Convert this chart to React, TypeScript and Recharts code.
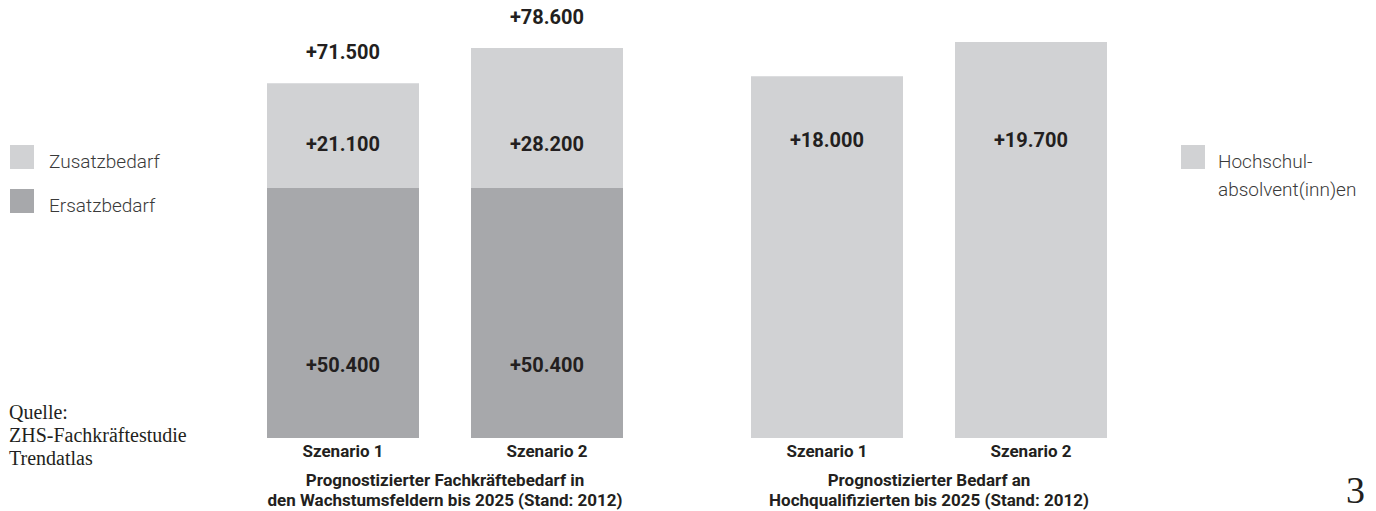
import { BarChart, Bar, XAxis, YAxis, LabelList } from "recharts";

const categories = ["Szenario 1", "Szenario 2"];
const ersatzbedarf = [50400, 50400];
const zusatzbedarf = [21100, 28200];
const totals = [71500, 78600];
const hochschul = [18000, 19700];

const leftLegend = ["Zusatzbedarf", "Ersatzbedarf"];
const rightLegend = ["Hochschul-", "absolvent(inn)en"];
const leftTitle = ["Prognostizierter Fachkräftebedarf in", "den Wachstumsfeldern bis 2025 (Stand: 2012)"];
const rightTitle = ["Prognostizierter Bedarf an", "Hochqualifizierten bis 2025 (Stand: 2012)"];
const source = ["Quelle:", "ZHS-Fachkräftestudie", "Trendatlas"];

const LIGHT = "#d1d2d4";
const DARK = "#a7a8ab";
const INK = "#231f20";
const FONT = "Roboto, Arial, sans-serif";

const leftData = categories.map((name, i) => ({
  name,
  ersatz: ersatzbedarf[i],
  zusatz: zusatzbedarf[i],
  total: totals[i],
}));
const rightData = categories.map((name, i) => ({ name, hochschul: hochschul[i] }));

const fmt = (v: number) => "+" + String(v).replace(/\B(?=(\d{3})+(?!\d))/g, ".");

// label placed at a fixed offset above the bottom edge of its segment
const bottomLabel = (offset: number) => (props: any) => {
  const { x, y, width, height, value } = props;
  return (
    <text
      x={x + width / 2}
      y={y + height - offset}
      textAnchor="middle"
      dominantBaseline="central"
      fill={INK}
      fontFamily={FONT}
      fontWeight={700}
      fontSize={20}
    >
      {fmt(value)}
    </text>
  );
};

const totalLabel = (props: any) => {
  const { x, y, width, index } = props;
  return (
    <text
      x={x + width / 2}
      y={y - 31}
      textAnchor="middle"
      dominantBaseline="central"
      fill={INK}
      fontFamily={FONT}
      fontWeight={700}
      fontSize={20}
    >
      {fmt(totals[index])}
    </text>
  );
};

const tickStyle = { fill: INK, fontFamily: FONT, fontWeight: 700, fontSize: 17 };

const Swatch = ({ color, top, left }: { color: string; top: number; left: number }) => (
  <div style={{ position: "absolute", left, top, width: 24, height: 24, background: color }} />
);

const legendText: React.CSSProperties = {
  position: "absolute",
  fontFamily: FONT,
  fontWeight: 300,
  fontSize: 19,
  color: "#3a3a3a",
  lineHeight: "28px",
  whiteSpace: "nowrap",
};

const titleStyle: React.CSSProperties = {
  position: "absolute",
  width: 408,
  textAlign: "center",
  fontFamily: FONT,
  fontWeight: 700,
  fontSize: 17,
  lineHeight: "20px",
  color: INK,
  whiteSpace: "nowrap",
};

export default function App() {
  return (
    <div style={{ position: "absolute", left: 0, top: 0, width: 1376, height: 511, background: "#fff", overflow: "hidden" }}>
      <Swatch color={LIGHT} left={10} top={145} />
      <div style={{ ...legendText, left: 49, top: 148 }}>{leftLegend[0]}</div>
      <Swatch color={DARK} left={10} top={189} />
      <div style={{ ...legendText, left: 49, top: 192 }}>{leftLegend[1]}</div>

      <div
        style={{
          position: "absolute",
          left: 9,
          top: 401,
          fontFamily: "'Liberation Serif', serif",
          fontSize: 20,
          lineHeight: "23px",
          color: INK,
        }}
      >
        {source.map((s) => (
          <div key={s}>{s}</div>
        ))}
      </div>

      <div style={{ position: "absolute", left: 241, top: 0 }}>
        <BarChart width={408} height={511} data={leftData} margin={{ top: 38, right: 0, bottom: 0, left: 0 }} barSize={152}>
          <YAxis hide domain={[0, 80600]} />
          <XAxis dataKey="name" height={73} axisLine={false} tickLine={false} tickSize={0} tickMargin={7} tick={tickStyle} interval={0} />
          <Bar dataKey="ersatz" stackId="a" fill={DARK} isAnimationActive={false}>
            <LabelList dataKey="ersatz" content={bottomLabel(73)} />
          </Bar>
          <Bar dataKey="zusatz" stackId="a" fill={LIGHT} isAnimationActive={false}>
            <LabelList dataKey="zusatz" content={bottomLabel(44)} />
            <LabelList dataKey="total" content={totalLabel} />
          </Bar>
        </BarChart>
      </div>
      <div style={{ ...titleStyle, left: 241, top: 470 }}>
        {leftTitle.map((t) => (
          <div key={t}>{t}</div>
        ))}
      </div>

      <div style={{ position: "absolute", left: 725, top: 0 }}>
        <BarChart width={408} height={511} data={rightData} margin={{ top: 38, right: 0, bottom: 0, left: 0 }} barSize={152}>
          <YAxis hide domain={[0, 19900]} />
          <XAxis dataKey="name" height={73} axisLine={false} tickLine={false} tickSize={0} tickMargin={7} tick={tickStyle} interval={0} />
          <Bar dataKey="hochschul" fill={LIGHT} isAnimationActive={false}>
            <LabelList dataKey="hochschul" content={bottomLabel(298)} />
          </Bar>
        </BarChart>
      </div>
      <div style={{ ...titleStyle, left: 725, top: 470 }}>
        {rightTitle.map((t) => (
          <div key={t}>{t}</div>
        ))}
      </div>

      <Swatch color={LIGHT} left={1181} top={145} />
      <div style={{ ...legendText, left: 1218, top: 148 }}>
        {rightLegend.map((t) => (
          <div key={t}>{t}</div>
        ))}
      </div>

      <div
        style={{
          position: "absolute",
          left: 1346,
          top: 470,
          fontFamily: "'Liberation Serif', serif",
          fontSize: 38,
          lineHeight: "40px",
          color: INK,
        }}
      >
        3
      </div>
    </div>
  );
}
